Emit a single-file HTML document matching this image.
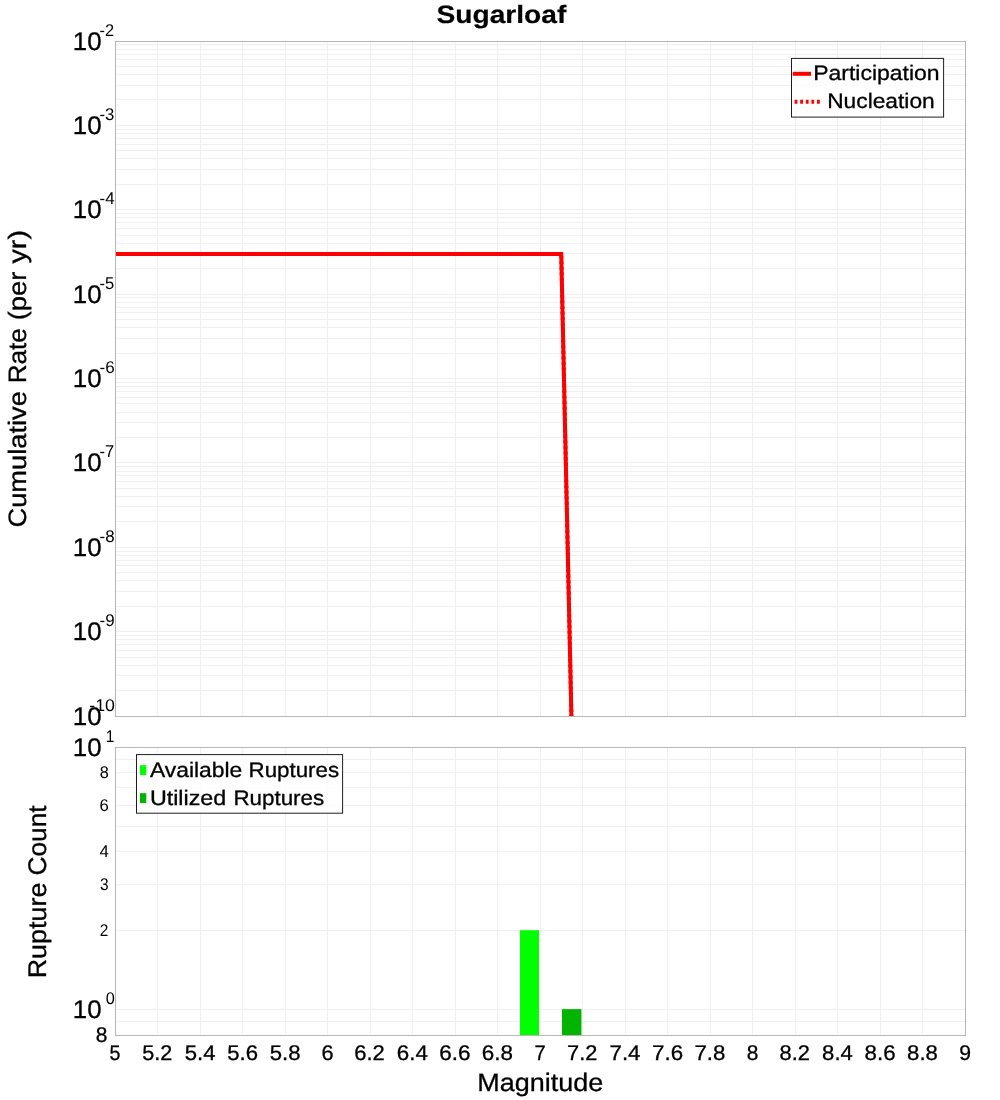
<!DOCTYPE html>
<html lang="en"><head><meta charset="utf-8"><title>Sugarloaf</title>
<style>html,body{margin:0;padding:0;background:#fff;}body{width:1000px;height:1100px;overflow:hidden;font-family:"Liberation Sans",sans-serif;}svg{display:block;}text{font-family:"Liberation Sans",sans-serif;fill:#000;stroke:#000;text-rendering:geometricPrecision;}</style>
</head><body>
<svg width="1000" height="1100" viewBox="0 0 1000 1100" style="will-change:transform">
<rect x="0" y="0" width="1000" height="1100" fill="#ffffff"/>
<g shape-rendering="crispEdges" fill="#f0f0f0">
<rect x="157" y="42" width="1" height="674"/>
<rect x="157" y="748" width="1" height="287"/>
<rect x="200" y="42" width="1" height="674"/>
<rect x="200" y="748" width="1" height="287"/>
<rect x="242" y="42" width="1" height="674"/>
<rect x="242" y="748" width="1" height="287"/>
<rect x="285" y="42" width="1" height="674"/>
<rect x="285" y="748" width="1" height="287"/>
<rect x="327" y="42" width="1" height="674"/>
<rect x="327" y="748" width="1" height="287"/>
<rect x="370" y="42" width="1" height="674"/>
<rect x="370" y="748" width="1" height="287"/>
<rect x="412" y="42" width="1" height="674"/>
<rect x="412" y="748" width="1" height="287"/>
<rect x="455" y="42" width="1" height="674"/>
<rect x="455" y="748" width="1" height="287"/>
<rect x="497" y="42" width="1" height="674"/>
<rect x="497" y="748" width="1" height="287"/>
<rect x="540" y="42" width="1" height="674"/>
<rect x="540" y="748" width="1" height="287"/>
<rect x="582" y="42" width="1" height="674"/>
<rect x="582" y="748" width="1" height="287"/>
<rect x="625" y="42" width="1" height="674"/>
<rect x="625" y="748" width="1" height="287"/>
<rect x="667" y="42" width="1" height="674"/>
<rect x="667" y="748" width="1" height="287"/>
<rect x="710" y="42" width="1" height="674"/>
<rect x="710" y="748" width="1" height="287"/>
<rect x="752" y="42" width="1" height="674"/>
<rect x="752" y="748" width="1" height="287"/>
<rect x="795" y="42" width="1" height="674"/>
<rect x="795" y="748" width="1" height="287"/>
<rect x="837" y="42" width="1" height="674"/>
<rect x="837" y="748" width="1" height="287"/>
<rect x="880" y="42" width="1" height="674"/>
<rect x="880" y="748" width="1" height="287"/>
<rect x="922" y="42" width="1" height="674"/>
<rect x="922" y="748" width="1" height="287"/>
<rect x="116" y="125" width="849" height="1"/>
<rect x="116" y="99" width="849" height="1"/>
<rect x="116" y="85" width="849" height="1"/>
<rect x="116" y="74" width="849" height="1"/>
<rect x="116" y="66" width="849" height="1"/>
<rect x="116" y="59" width="849" height="1"/>
<rect x="116" y="54" width="849" height="1"/>
<rect x="116" y="49" width="849" height="1"/>
<rect x="116" y="44" width="849" height="1"/>
<rect x="116" y="209" width="849" height="1"/>
<rect x="116" y="184" width="849" height="1"/>
<rect x="116" y="169" width="849" height="1"/>
<rect x="116" y="158" width="849" height="1"/>
<rect x="116" y="150" width="849" height="1"/>
<rect x="116" y="144" width="849" height="1"/>
<rect x="116" y="138" width="849" height="1"/>
<rect x="116" y="133" width="849" height="1"/>
<rect x="116" y="129" width="849" height="1"/>
<rect x="116" y="294" width="849" height="1"/>
<rect x="116" y="268" width="849" height="1"/>
<rect x="116" y="253" width="849" height="1"/>
<rect x="116" y="243" width="849" height="1"/>
<rect x="116" y="235" width="849" height="1"/>
<rect x="116" y="228" width="849" height="1"/>
<rect x="116" y="222" width="849" height="1"/>
<rect x="116" y="217" width="849" height="1"/>
<rect x="116" y="213" width="849" height="1"/>
<rect x="116" y="378" width="849" height="1"/>
<rect x="116" y="353" width="849" height="1"/>
<rect x="116" y="338" width="849" height="1"/>
<rect x="116" y="327" width="849" height="1"/>
<rect x="116" y="319" width="849" height="1"/>
<rect x="116" y="312" width="849" height="1"/>
<rect x="116" y="307" width="849" height="1"/>
<rect x="116" y="302" width="849" height="1"/>
<rect x="116" y="297" width="849" height="1"/>
<rect x="116" y="462" width="849" height="1"/>
<rect x="116" y="437" width="849" height="1"/>
<rect x="116" y="422" width="849" height="1"/>
<rect x="116" y="412" width="849" height="1"/>
<rect x="116" y="403" width="849" height="1"/>
<rect x="116" y="397" width="849" height="1"/>
<rect x="116" y="391" width="849" height="1"/>
<rect x="116" y="386" width="849" height="1"/>
<rect x="116" y="382" width="849" height="1"/>
<rect x="116" y="547" width="849" height="1"/>
<rect x="116" y="521" width="849" height="1"/>
<rect x="116" y="506" width="849" height="1"/>
<rect x="116" y="496" width="849" height="1"/>
<rect x="116" y="488" width="849" height="1"/>
<rect x="116" y="481" width="849" height="1"/>
<rect x="116" y="475" width="849" height="1"/>
<rect x="116" y="471" width="849" height="1"/>
<rect x="116" y="466" width="849" height="1"/>
<rect x="116" y="631" width="849" height="1"/>
<rect x="116" y="606" width="849" height="1"/>
<rect x="116" y="591" width="849" height="1"/>
<rect x="116" y="580" width="849" height="1"/>
<rect x="116" y="572" width="849" height="1"/>
<rect x="116" y="565" width="849" height="1"/>
<rect x="116" y="560" width="849" height="1"/>
<rect x="116" y="555" width="849" height="1"/>
<rect x="116" y="551" width="849" height="1"/>
<rect x="116" y="690" width="849" height="1"/>
<rect x="116" y="675" width="849" height="1"/>
<rect x="116" y="665" width="849" height="1"/>
<rect x="116" y="657" width="849" height="1"/>
<rect x="116" y="650" width="849" height="1"/>
<rect x="116" y="644" width="849" height="1"/>
<rect x="116" y="639" width="849" height="1"/>
<rect x="116" y="635" width="849" height="1"/>
<rect x="116" y="759" width="849" height="1"/>
<rect x="116" y="772" width="849" height="1"/>
<rect x="116" y="787" width="849" height="1"/>
<rect x="116" y="805" width="849" height="1"/>
<rect x="116" y="826" width="849" height="1"/>
<rect x="116" y="851" width="849" height="1"/>
<rect x="116" y="884" width="849" height="1"/>
<rect x="116" y="930" width="849" height="1"/>
<rect x="116" y="1009" width="849" height="1"/>
<rect x="116" y="1021" width="849" height="1"/>
</g>
<rect x="520" y="930.2" width="19" height="104.8" fill="#00ff00"/>
<rect x="562" y="1009.15" width="19.45" height="25.85" fill="#00b400"/>
<clipPath id="cu"><rect x="115" y="41" width="851" height="675"/></clipPath>
<g clip-path="url(#cu)"><polyline points="115,254 561.25,254 582.5,1221.3" fill="none" stroke="#ff0000" stroke-width="4" stroke-linejoin="miter"/><polyline points="115,254 561.25,254 582.5,1221.3" fill="none" stroke="#ff0000" stroke-width="4" stroke-linejoin="miter" stroke-dasharray="2.8 2.8"/></g>
<g shape-rendering="crispEdges" fill="none" stroke="#b6b6b6" stroke-width="1">
<rect x="115.5" y="41.5" width="850" height="675"/>
<rect x="115.5" y="747.5" width="850" height="288"/>
</g>
<rect x="791.5" y="58.4" width="152.1" height="58.7" fill="#ffffff" fill-opacity="0.8" stroke="#1e1e1e" stroke-width="1"/>
<rect x="136.5" y="754.6" width="206.1" height="58.6" fill="#ffffff" fill-opacity="0.8" stroke="#1e1e1e" stroke-width="1"/>
<rect x="140" y="765.2" width="6.3" height="9.9" fill="#00ff00"/>
<rect x="140" y="793.2" width="6.3" height="9.9" fill="#00b400"/>
<line x1="792.8" y1="73.8" x2="811" y2="73.8" stroke="#ff0000" stroke-width="4"/>
<line x1="794.6" y1="101.8" x2="820" y2="101.8" stroke="#ff0000" stroke-width="4" stroke-dasharray="2.8 2.8"/>
<g stroke-width="0.3">
<text y="23.25" font-size="25.16" font-weight="bold" stroke-width="0.2"><tspan x="436.47" textLength="129.89" lengthAdjust="spacingAndGlyphs">Sugarloaf</tspan></text>
<text y="50.00" font-size="25.51"><tspan x="72.88" textLength="28.80" lengthAdjust="spacingAndGlyphs" font-size="25.51" y="50.00">10</tspan><tspan x="99.54" textLength="14.56" lengthAdjust="spacingAndGlyphs" font-size="17.01" stroke-width="0" y="35.90">-2</tspan></text>
<text y="134.00" font-size="25.51"><tspan x="72.88" textLength="28.80" lengthAdjust="spacingAndGlyphs" font-size="25.51" y="134.00">10</tspan><tspan x="99.53" textLength="14.86" lengthAdjust="spacingAndGlyphs" font-size="17.01" stroke-width="0" y="119.90">-3</tspan></text>
<text y="218.00" font-size="25.51"><tspan x="72.88" textLength="28.80" lengthAdjust="spacingAndGlyphs" font-size="25.51" y="218.00">10</tspan><tspan x="99.52" textLength="15.12" lengthAdjust="spacingAndGlyphs" font-size="16.95" stroke-width="0" y="203.90">-4</tspan></text>
<text y="303.00" font-size="25.51"><tspan x="72.88" textLength="28.80" lengthAdjust="spacingAndGlyphs" font-size="25.51" y="303.00">10</tspan><tspan x="99.53" textLength="14.65" lengthAdjust="spacingAndGlyphs" font-size="16.95" stroke-width="0" y="288.90">-5</tspan></text>
<text y="387.00" font-size="25.51"><tspan x="72.88" textLength="28.80" lengthAdjust="spacingAndGlyphs" font-size="25.51" y="387.00">10</tspan><tspan x="99.52" textLength="15.14" lengthAdjust="spacingAndGlyphs" font-size="17.01" stroke-width="0" y="372.90">-6</tspan></text>
<text y="471.00" font-size="25.51"><tspan x="72.88" textLength="28.80" lengthAdjust="spacingAndGlyphs" font-size="25.51" y="471.00">10</tspan><tspan x="99.53" textLength="14.63" lengthAdjust="spacingAndGlyphs" font-size="16.95" stroke-width="0" y="456.90">-7</tspan></text>
<text y="556.00" font-size="25.51"><tspan x="72.88" textLength="28.80" lengthAdjust="spacingAndGlyphs" font-size="25.51" y="556.00">10</tspan><tspan x="99.52" textLength="15.02" lengthAdjust="spacingAndGlyphs" font-size="17.01" stroke-width="0" y="541.90">-8</tspan></text>
<text y="640.00" font-size="25.51"><tspan x="72.88" textLength="28.80" lengthAdjust="spacingAndGlyphs" font-size="25.51" y="640.00">10</tspan><tspan x="99.52" textLength="15.06" lengthAdjust="spacingAndGlyphs" font-size="17.01" stroke-width="0" y="625.90">-9</tspan></text>
<text y="725.00" font-size="25.51"><tspan x="72.88" textLength="28.80" lengthAdjust="spacingAndGlyphs" font-size="25.51" y="725.00">10</tspan><tspan x="89.23" textLength="25.65" lengthAdjust="spacingAndGlyphs" font-size="17.01" stroke-width="0" y="710.90">-10</tspan></text>
<text y="756.00" font-size="25.51"><tspan x="72.88" textLength="28.80" lengthAdjust="spacingAndGlyphs" font-size="25.51" y="756.00">10</tspan><tspan x="105.69" textLength="8.61" lengthAdjust="spacingAndGlyphs" font-size="16.95" stroke-width="0" y="741.90">1</tspan></text>
<text y="1018.00" font-size="25.51"><tspan x="72.88" textLength="28.80" lengthAdjust="spacingAndGlyphs" font-size="25.51" y="1018.00">10</tspan><tspan x="105.64" textLength="9.08" lengthAdjust="spacingAndGlyphs" font-size="17.01" stroke-width="0" y="1003.90">0</tspan></text>
<text y="778.27" font-size="17.01" stroke-width="0"><tspan x="99.64" textLength="9.05" lengthAdjust="spacingAndGlyphs">8</tspan></text>
<text y="811.08" font-size="17.01" stroke-width="0"><tspan x="99.55" textLength="9.27" lengthAdjust="spacingAndGlyphs">6</tspan></text>
<text y="857.31" font-size="16.95" stroke-width="0"><tspan x="99.48" textLength="9.41" lengthAdjust="spacingAndGlyphs">4</tspan></text>
<text y="890.11" font-size="17.01" stroke-width="0"><tspan x="99.88" textLength="8.62" lengthAdjust="spacingAndGlyphs">3</tspan></text>
<text y="936.35" font-size="17.01" stroke-width="0"><tspan x="99.63" textLength="8.58" lengthAdjust="spacingAndGlyphs">2</tspan></text>
<text y="1041.80" font-size="21.26"><tspan x="95.85" textLength="11.64" lengthAdjust="spacingAndGlyphs">8</tspan></text>
<text y="1060.00" font-size="21.19"><tspan x="109.56" textLength="10.96" lengthAdjust="spacingAndGlyphs">5</tspan></text>
<text y="1060.00" font-size="21.26"><tspan x="142.30" textLength="30.04" lengthAdjust="spacingAndGlyphs">5.2</tspan></text>
<text y="1060.00" font-size="21.19"><tspan x="184.68" textLength="30.78" lengthAdjust="spacingAndGlyphs">5.4</tspan></text>
<text y="1060.00" font-size="21.26"><tspan x="227.28" textLength="30.77" lengthAdjust="spacingAndGlyphs">5.6</tspan></text>
<text y="1060.00" font-size="21.26"><tspan x="269.69" textLength="30.74" lengthAdjust="spacingAndGlyphs">5.8</tspan></text>
<text y="1060.00" font-size="21.26"><tspan x="321.54" textLength="12.08" lengthAdjust="spacingAndGlyphs">6</tspan></text>
<text y="1060.00" font-size="21.26"><tspan x="354.28" textLength="30.57" lengthAdjust="spacingAndGlyphs">6.2</tspan></text>
<text y="1060.00" font-size="21.26"><tspan x="396.75" textLength="31.08" lengthAdjust="spacingAndGlyphs">6.4</tspan></text>
<text y="1060.00" font-size="21.26"><tspan x="439.26" textLength="31.29" lengthAdjust="spacingAndGlyphs">6.6</tspan></text>
<text y="1060.00" font-size="21.26"><tspan x="481.75" textLength="31.16" lengthAdjust="spacingAndGlyphs">6.8</tspan></text>
<text y="1060.00" font-size="21.19"><tspan x="534.40" textLength="11.20" lengthAdjust="spacingAndGlyphs">7</tspan></text>
<text y="1060.00" font-size="21.26"><tspan x="567.07" textLength="30.27" lengthAdjust="spacingAndGlyphs">7.2</tspan></text>
<text y="1060.00" font-size="21.19"><tspan x="609.53" textLength="30.94" lengthAdjust="spacingAndGlyphs">7.4</tspan></text>
<text y="1060.00" font-size="21.26"><tspan x="652.05" textLength="31.01" lengthAdjust="spacingAndGlyphs">7.6</tspan></text>
<text y="1060.00" font-size="21.26"><tspan x="694.53" textLength="30.90" lengthAdjust="spacingAndGlyphs">7.8</tspan></text>
<text y="1060.00" font-size="21.26"><tspan x="746.85" textLength="11.64" lengthAdjust="spacingAndGlyphs">8</tspan></text>
<text y="1060.00" font-size="21.26"><tspan x="779.58" textLength="30.27" lengthAdjust="spacingAndGlyphs">8.2</tspan></text>
<text y="1060.00" font-size="21.26"><tspan x="822.13" textLength="30.69" lengthAdjust="spacingAndGlyphs">8.4</tspan></text>
<text y="1060.00" font-size="21.26"><tspan x="864.56" textLength="30.98" lengthAdjust="spacingAndGlyphs">8.6</tspan></text>
<text y="1060.00" font-size="21.26"><tspan x="907.13" textLength="30.77" lengthAdjust="spacingAndGlyphs">8.8</tspan></text>
<text y="1060.00" font-size="21.26"><tspan x="959.19" textLength="11.80" lengthAdjust="spacingAndGlyphs">9</tspan></text>
<text y="1090.70" font-size="25.16"><tspan x="477.30" textLength="126.04" lengthAdjust="spacingAndGlyphs">Magnitude</tspan></text>
<text transform="translate(26.3,379) rotate(-90)" y="0" font-size="25.16"><tspan x="-148.53" textLength="136.31" lengthAdjust="spacingAndGlyphs">Cumulative</tspan> <tspan x="-4.39" textLength="55.27" lengthAdjust="spacingAndGlyphs">Rate</tspan> <tspan x="58.65" textLength="48.89" lengthAdjust="spacingAndGlyphs">(per</tspan> <tspan x="115.48" textLength="33.54" lengthAdjust="spacingAndGlyphs">yr)</tspan></text>
<text transform="translate(46.1,891) rotate(-90)" y="0" font-size="25.51"><tspan x="-87.38" textLength="95.79" lengthAdjust="spacingAndGlyphs">Rupture</tspan> <tspan x="15.41" textLength="70.23" lengthAdjust="spacingAndGlyphs">Count</tspan></text>
<text y="79.80" font-size="20.97"><tspan x="813.17" textLength="126.50" lengthAdjust="spacingAndGlyphs">Participation</tspan></text>
<text y="107.80" font-size="20.97"><tspan x="827.19" textLength="107.53" lengthAdjust="spacingAndGlyphs">Nucleation</tspan></text>
<text y="776.80" font-size="20.97"><tspan x="149.94" textLength="92.34" lengthAdjust="spacingAndGlyphs">Available</tspan> <tspan x="248.52" textLength="90.60" lengthAdjust="spacingAndGlyphs">Ruptures</tspan></text>
<text y="804.60" font-size="20.97"><tspan x="149.90" textLength="76.39" lengthAdjust="spacingAndGlyphs">Utilized</tspan> <tspan x="233.41" textLength="90.81" lengthAdjust="spacingAndGlyphs">Ruptures</tspan></text>
</g>
</svg>
</body></html>
